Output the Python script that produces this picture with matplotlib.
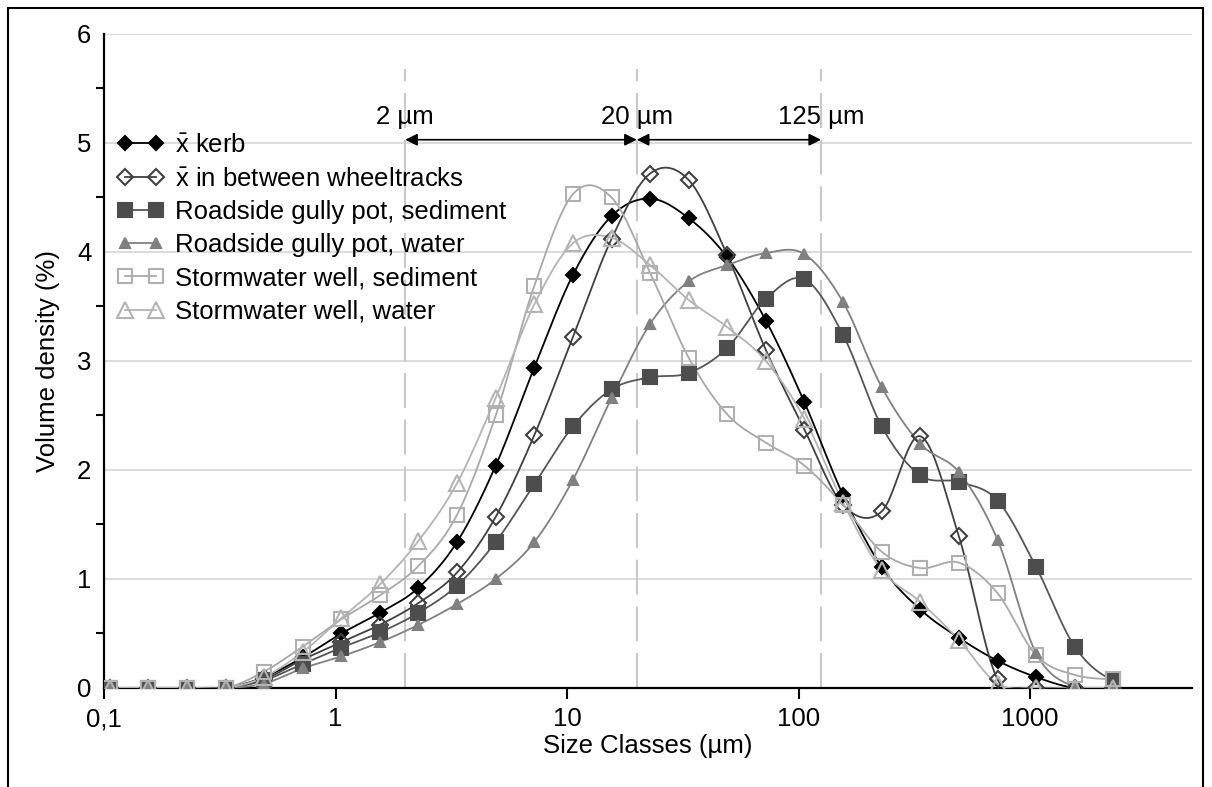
import matplotlib.pyplot as plt
import numpy as np
from matplotlib.patches import Rectangle

plt.rcParams['font.family'] = ['Liberation Sans', 'DejaVu Sans']
plt.rcParams['mathtext.fontset'] = 'custom'
plt.rcParams['mathtext.rm'] = 'Liberation Sans'

# size classes (um)
sizes = [0.106, 0.155, 0.228, 0.335, 0.491, 0.721, 1.059, 1.555, 2.282,
         3.350, 4.918, 7.220, 10.60, 15.56, 22.84, 33.52, 49.21, 72.24,
         106.0, 155.6, 228.5, 335.4, 492.4, 722.8, 1061, 1557, 2286]

kerb = [0, 0, 0, 0, 0.10, 0.28, 0.50, 0.69, 0.92, 1.34, 2.04, 2.94, 3.79,
        4.33, 4.49, 4.31, 3.95, 3.37, 2.62, 1.77, 1.11, 0.72, 0.46, 0.25,
        0.10, 0, 0]
wheeltracks = [0, 0, 0, 0, 0.08, 0.26, 0.42, 0.58, 0.78, 1.06, 1.57, 2.32,
               3.22, 4.12, 4.72, 4.66, 3.97, 3.10, 2.37, 1.68, 1.62, 2.31,
               1.39, 0.08, 0, 0, 0]
gully_sed = [0, 0, 0, 0, 0.07, 0.22, 0.37, 0.51, 0.69, 0.94, 1.34, 1.87,
             2.40, 2.74, 2.85, 2.89, 3.12, 3.57, 3.75, 3.24, 2.40, 1.95,
             1.89, 1.72, 1.11, 0.38, 0.07]
gully_water = [0, 0, 0, 0, 0.04, 0.18, 0.29, 0.42, 0.58, 0.77, 1.00, 1.34,
               1.91, 2.66, 3.34, 3.73, 3.88, 3.99, 3.98, 3.54, 2.76, 2.24,
               1.98, 1.36, 0.32, 0.01, 0]
storm_sed = [0, 0, 0, 0, 0.15, 0.38, 0.63, 0.85, 1.12, 1.59, 2.50, 3.69,
             4.53, 4.50, 3.81, 3.03, 2.51, 2.25, 2.04, 1.68, 1.25, 1.10,
             1.15, 0.87, 0.30, 0.12, 0.08]
storm_water = [0, 0, 0, 0, 0.10, 0.33, 0.64, 0.95, 1.35, 1.88, 2.66, 3.52,
               4.08, 4.13, 3.88, 3.56, 3.31, 3.00, 2.47, 1.70, 1.08, 0.79,
               0.44, 0.04, 0, 0, 0]

labels = [r'$\bar{\mathrm{x}}$ kerb', r'$\bar{\mathrm{x}}$ in between wheeltracks',
          'Roadside gully pot, sediment', 'Roadside gully pot, water',
          'Stormwater well, sediment', 'Stormwater well, water']


def smooth(x, y, n=20):
    # catmull-rom through the points, in log-x space (like Excel "smoothed line")
    lx = np.log10(x)
    y = np.asarray(y, float)
    px = np.concatenate([[2*lx[0]-lx[1]], lx, [2*lx[-1]-lx[-2]]])
    py = np.concatenate([[y[0]], y, [y[-1]]])
    xs, ys = [], []
    t = np.linspace(0, 1, n, endpoint=False)
    for i in range(1, len(px)-2):
        p0, p1, p2, p3 = px[i-1], px[i], px[i+1], px[i+2]
        q0, q1, q2, q3 = py[i-1], py[i], py[i+1], py[i+2]
        c1x, c1y = p1 + (p2-p0)/6, q1 + (q2-q0)/6
        c2x, c2y = p2 - (p3-p1)/6, q2 - (q3-q1)/6
        bx = (1-t)**3*p1 + 3*(1-t)**2*t*c1x + 3*(1-t)*t**2*c2x + t**3*p2
        by = (1-t)**3*q1 + 3*(1-t)**2*t*c1y + 3*(1-t)*t**2*c2y + t**3*q2
        xs.extend(bx)
        ys.extend(by)
    xs.append(lx[-1])
    ys.append(y[-1])
    return 10**np.array(xs), np.array(ys)


fig = plt.figure(figsize=(12.12, 7.87), dpi=100)
ax = fig.add_axes([0.0858, 0.1258, 0.8977, 0.831])

styles = [
    dict(color='#000000', marker='D', ms=7, mfc='#000000', mec='#000000'),
    dict(color='#404040', marker='D', ms=8, mfc='none', mec='#404040'),
    dict(color='#555555', marker='s', ms=10.5, mfc='#4d4d4d', mec='#4d4d4d'),
    dict(color='#808080', marker='^', ms=6.5, mfc='#808080', mec='#808080'),
    dict(color='#a8a8a8', marker='s', ms=10.5, mfc='none', mec='#b0b0b0'),
    dict(color='#b4b4b4', marker='^', ms=11, mfc='none', mec='#b4b4b4'),
]
series = [kerb, wheeltracks, gully_sed, gully_water, storm_sed, storm_water]

handles = []
for s, st, lab in zip(series, styles, labels):
    sx, sy = smooth(sizes, s)
    ax.plot(sx, sy, color=st['color'], lw=1.3, zorder=3)
    ax.plot(sizes, s, ls='none', marker=st['marker'], ms=st['ms'],
            mfc=st['mfc'], mec=st['mec'], mew=1.5, zorder=4)
    h, = ax.plot([], [], color=st['color'], lw=1.3, marker=st['marker'],
                 ms=st['ms'], mfc=st['mfc'], mec=st['mec'], mew=1.5)
    handles.append(h)

fs = 18.5
ax.set_xscale('log')
ax.set_xlim(0.1, 5000)
ax.set_ylim(0, 6)
ax.set_xticks([0.1, 1, 10, 100, 1000])
ax.set_xticklabels(['0,1', '1', '10', '100', '1000'])
ax.xaxis.set_minor_locator(plt.NullLocator())
ax.set_yticks([0, 1, 2, 3, 4, 5, 6])
ax.set_yticks(np.arange(0.5, 6, 1), minor=True)
ax.tick_params(axis='y', which='major', length=0, labelsize=fs, pad=9)
ax.tick_params(axis='y', which='minor', length=6, width=1.5)
ax.tick_params(axis='x', which='major', length=8, width=1.5, labelsize=fs, pad=6)
ax.grid(axis='y', which='major', color='#d9d9d9', lw=1.3)
ax.set_axisbelow(True)
for sp in ['top', 'right']:
    ax.spines[sp].set_visible(False)
for sp in ['left', 'bottom']:
    ax.spines[sp].set_linewidth(1.6)

ax.set_xlabel('Size Classes (µm)', fontsize=fs, labelpad=2)
ax.set_ylabel('Volume density (%)', fontsize=fs, labelpad=12)

# boundaries of the size fractions
bounds = [2, 20, 125]
bound_labels = ['2 µm', '20 µm', '125 µm']
for b, bl in zip(bounds, bound_labels):
    ax.plot([b, b], [0, 5.68], color='#c8c8c8', lw=1.4, dashes=(18, 6), zorder=1)
    ax.text(b, 5.24, bl, fontsize=fs, ha='center', va='center')
for a, b in [(2, 20), (20, 125)]:
    ax.annotate('', xy=(b, 5.03), xytext=(a, 5.03),
                arrowprops=dict(arrowstyle='<|-|>', color='black', lw=1.2,
                                mutation_scale=18, shrinkA=0, shrinkB=0))

leg = ax.legend(handles, labels, loc='upper left', bbox_to_anchor=(0.012, 0.848),
                frameon=False, fontsize=fs, numpoints=2, handlelength=1.8,
                handletextpad=0.45, labelspacing=0.36, borderaxespad=0,
                borderpad=0)

fig.patches.append(Rectangle((8/1212, -0.05), 1195/1212, 1.05 - 8/787,
                             transform=fig.transFigure, fill=False,
                             ec='black', lw=1.5))

plt.savefig('out.png', dpi=100)
